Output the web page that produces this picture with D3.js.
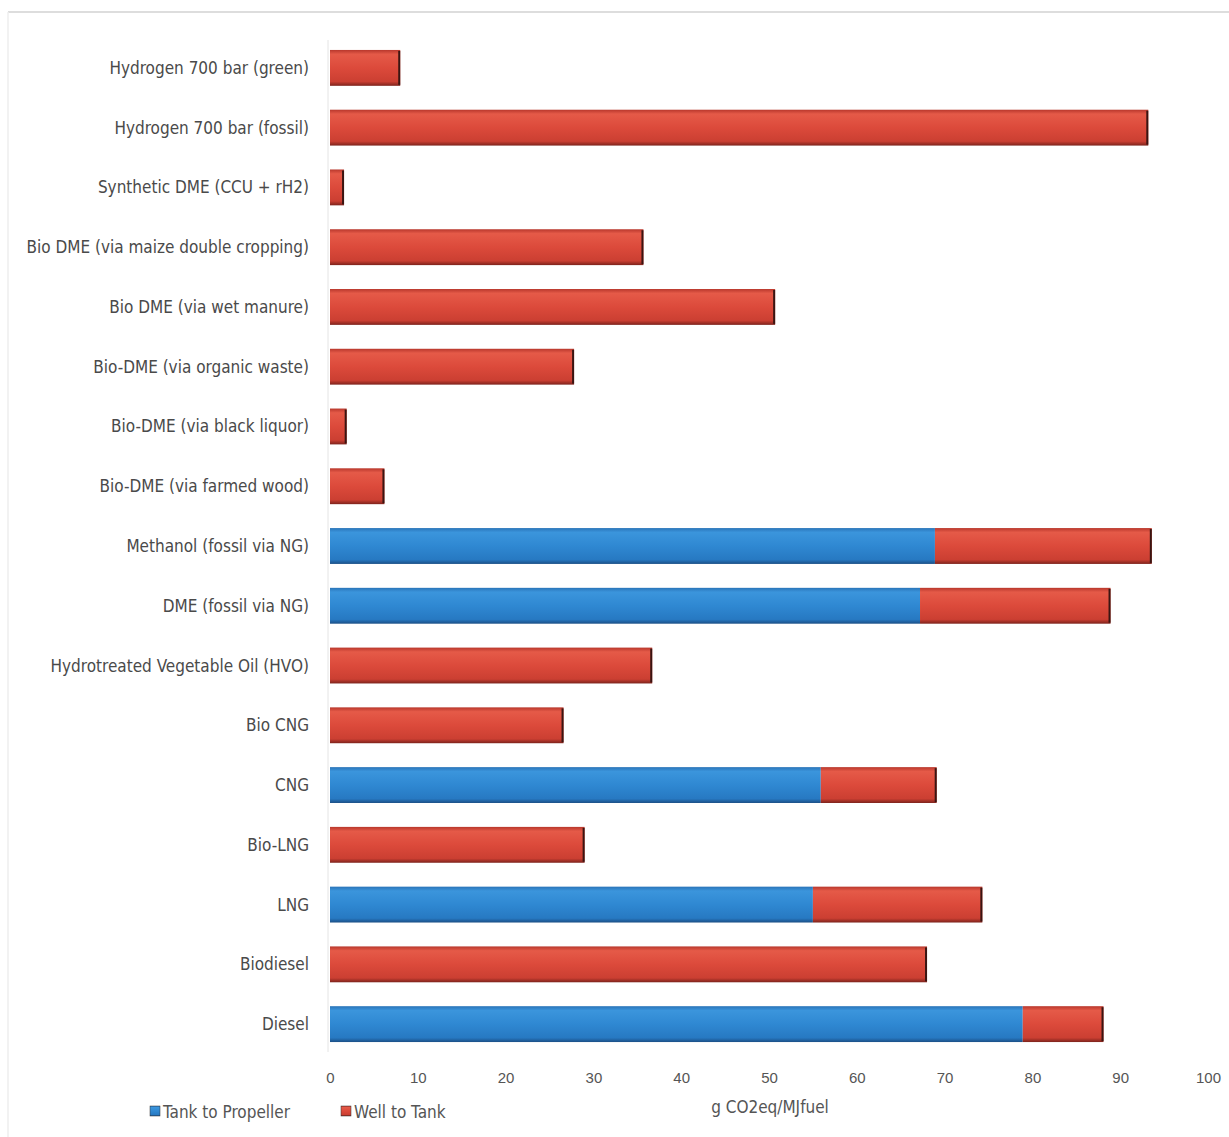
<!DOCTYPE html>
<html>
<head>
<meta charset="utf-8">
<script src="https://cdn.jsdelivr.net/npm/d3@7"></script>
<style>
  body { margin: 0; background: #fff; }
  svg { display: block; font-family: "DejaVu Sans Condensed", "DejaVu Sans", sans-serif; }
  .cat { font-size: 17px; fill: #4a4a4a; }
  .tick text { font-size: 15px; fill: #555; }
</style>
</head>
<body>
<svg width="1229" height="1137"></svg>
<script>
// categorias de cima para baixo
const categories = [
  "Hydrogen 700 bar (green)",
  "Hydrogen 700 bar (fossil)",
  "Synthetic DME (CCU + rH2)",
  "Bio DME (via maize double cropping)",
  "Bio DME (via wet manure)",
  "Bio-DME (via organic waste)",
  "Bio-DME (via black liquor)",
  "Bio-DME (via farmed wood)",
  "Methanol (fossil via NG)",
  "DME (fossil via NG)",
  "Hydrotreated Vegetable Oil (HVO)",
  "Bio CNG",
  "CNG",
  "Bio-LNG",
  "LNG",
  "Biodiesel",
  "Diesel"
];
const tankToPropeller = [0, 0, 0, 0, 0, 0, 0, 0, 68.9, 67.2, 0, 0, 55.9, 0, 55.0, 0, 78.9];
const wellToTank = [8.0, 93.2, 1.6, 35.7, 50.7, 27.8, 1.9, 6.2, 24.7, 21.7, 36.7, 26.6, 13.2, 29.0, 19.3, 68.0, 9.2];
const xTicks = [0, 10, 20, 30, 40, 50, 60, 70, 80, 90, 100];
const seriesNames = ["Tank to Propeller", "Well to Tank"];

const svg = d3.select("svg");
const x = d3.scaleLinear().domain([0, 100]).range([330, 1208]);
const y = d3.scaleBand().domain(categories).range([38, 1054]).paddingInner(0.4).paddingOuter(0.2);

// moldura clara da imagem
svg.append("line").attr("x1", 8).attr("x2", 1229).attr("y1", 12).attr("y2", 12)
  .attr("stroke", "#ddd").attr("stroke-width", 2);
svg.append("line").attr("x1", 8).attr("x2", 8).attr("y1", 12).attr("y2", 1137)
  .attr("stroke", "#eee").attr("stroke-width", 1.5);

// gradientes dos "cilindros"
const defs = svg.append("defs");
function grad(id, stops) {
  const g = defs.append("linearGradient").attr("id", id)
    .attr("x1", 0).attr("x2", 0).attr("y1", 0).attr("y2", 1);
  stops.forEach(s => g.append("stop").attr("offset", s[0]).attr("stop-color", s[1]));
}
grad("gBlue", [[0, "#2a74b8"], [0.12, "#3b95dc"], [0.5, "#2f88d2"], [0.88, "#2779c2"], [1, "#1b4f86"]]);
grad("gRed", [[0, "#b8372c"], [0.12, "#e55a48"], [0.5, "#dc4a3b"], [0.88, "#cb3f32"], [1, "#7d231c"]]);

// eixo y (linha clara)
svg.append("line").attr("x1", x(0) - 2).attr("x2", x(0) - 2).attr("y1", 40).attr("y2", 1052)
  .attr("stroke", "#e4e4e4");

const rows = categories.map((c, i) => ({ cat: c, ttp: tankToPropeller[i], wtt: wellToTank[i] }));

// barras azuis
svg.selectAll(".ttp").data(rows.filter(d => d.ttp > 0)).enter()
  .append("rect").attr("class", "ttp")
  .attr("x", x(0)).attr("y", d => y(d.cat))
  .attr("width", d => x(d.ttp) - x(0)).attr("height", y.bandwidth())
  .attr("fill", "url(#gBlue)");

// barras vermelhas
svg.selectAll(".wtt").data(rows).enter()
  .append("rect").attr("class", "wtt")
  .attr("x", d => x(d.ttp)).attr("y", d => y(d.cat))
  .attr("width", d => x(d.ttp + d.wtt) - x(d.ttp)).attr("height", y.bandwidth())
  .attr("fill", "url(#gRed)");

// borda escura na ponta
svg.selectAll(".endcap").data(rows).enter()
  .append("rect")
  .attr("x", d => x(d.ttp + d.wtt) - 2).attr("y", d => y(d.cat) + 1)
  .attr("width", 2).attr("height", y.bandwidth() - 2)
  .attr("fill", "#3a1512");

// rótulos das categorias
svg.selectAll(".cat").data(categories).enter()
  .append("text").attr("class", "cat")
  .attr("x", 309).attr("y", d => y(d) + y.bandwidth() / 2 + 6)
  .attr("text-anchor", "end")
  .text(d => d);

// eixo x
const xAxis = svg.append("g").attr("transform", "translate(0,1062)")
  .call(d3.axisBottom(x).tickValues(xTicks).tickSize(0).tickPadding(10));
xAxis.select(".domain").remove();

svg.append("text").attr("x", 770).attr("y", 1113).attr("text-anchor", "middle")
  .attr("font-size", 17).attr("fill", "#555").text("g CO2eq/MJfuel");

// legenda
const legend = svg.selectAll(".leg").data(seriesNames).enter()
  .append("g").attr("transform", (d, i) => `translate(${[150, 341][i]},1106)`);
legend.append("rect").attr("width", 10).attr("height", 10)
  .attr("fill", (d, i) => i === 0 ? "url(#gBlue)" : "url(#gRed)")
  .attr("stroke", "#333").attr("stroke-width", 0.5);
legend.append("text").attr("x", 13).attr("y", 12).attr("font-size", 17).attr("fill", "#555")
  .text(d => d);
</script>
</body>
</html>
